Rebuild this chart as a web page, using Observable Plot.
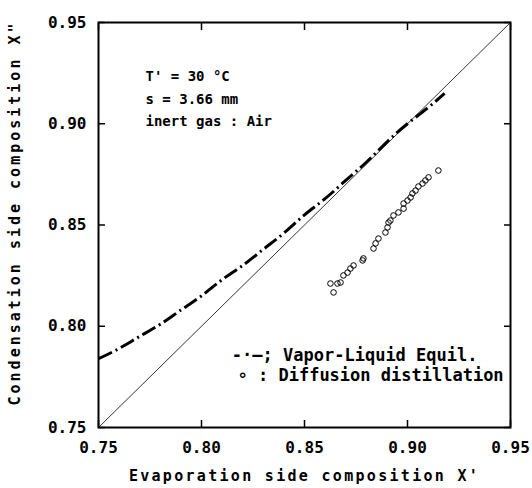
<!DOCTYPE html>
<html>
<head>
<meta charset="utf-8">
<script src="https://cdn.jsdelivr.net/npm/d3@7"></script>
<script src="https://cdn.jsdelivr.net/npm/@observablehq/plot@0.6"></script>
<style>
  html, body { margin: 0; padding: 0; background: #fff; }
</style>
</head>
<body>
<div id="chart"></div>
<script>
// Tick values / labels
const xTicks = [0.75, 0.80, 0.85, 0.90, 0.95];
const yTicks = [0.75, 0.80, 0.85, 0.90, 0.95];
const tickLabels = ["0.75", "0.80", "0.85", "0.90", "0.95"];

// Diagonal X'' = X'
const diagX = [0.75, 0.95];
const diagY = [0.75, 0.95];

// Vapor-liquid equilibrium curve (dash-dot)
const vleX = [0.750, 0.760, 0.770, 0.780, 0.790, 0.800, 0.810, 0.820, 0.830, 0.840, 0.850, 0.860, 0.870, 0.880, 0.890, 0.900, 0.910, 0.918];
const vleY = [0.784, 0.789, 0.795, 0.801, 0.808, 0.815, 0.823, 0.830, 0.838, 0.846, 0.855, 0.863, 0.872, 0.881, 0.891, 0.900, 0.908, 0.915];

// Diffusion distillation experiments
const expX = [0.9150, 0.9102, 0.9087, 0.9073, 0.9053, 0.9039, 0.9024, 0.9015, 0.9000, 0.8981, 0.8981, 0.8956, 0.8932, 0.8917, 0.8908, 0.8903, 0.8893, 0.8859, 0.8845, 0.8835, 0.8786, 0.8782, 0.8738, 0.8723, 0.8709, 0.8689, 0.8675, 0.8660, 0.8626, 0.8641];
const expY = [0.8769, 0.8735, 0.8720, 0.8705, 0.8690, 0.8670, 0.8656, 0.8636, 0.8621, 0.8606, 0.8581, 0.8562, 0.8547, 0.8522, 0.8512, 0.8488, 0.8463, 0.8433, 0.8409, 0.8384, 0.8335, 0.8325, 0.8300, 0.8285, 0.8265, 0.8251, 0.8216, 0.8211, 0.8211, 0.8167];

const annotation = "T' = 30 °C\ns = 3.66 mm\ninert gas : Air";
const legend1 = "-·—; Vapor-Liquid Equil.";
const legend2 = "∘ : Diffusion distillation";
const xTitle = "Evaporation side composition X'";
const yTitle = "Condensation side composition X\"";

const vle = vleX.map((x, i) => ({x, y: vleY[i]}));
const exp = expX.map((x, i) => ({x, y: expY[i]}));
const diag = diagX.map((x, i) => ({x, y: diagY[i]}));
const fmt = d => tickLabels[xTicks.indexOf(d)];

const font = "DejaVu Sans Mono";

const svg = Plot.plot({
  width: 532,
  height: 488,
  marginLeft: 98,
  marginRight: 22,
  marginTop: 22,
  marginBottom: 61,
  style: {fontFamily: font, fontWeight: "bold", color: "#000", background: "#fff"},
  x: {domain: [0.75, 0.95]},
  y: {domain: [0.75, 0.95]},
  marks: [
    Plot.frame({stroke: "#000", strokeWidth: 2}),
    Plot.axisX(xTicks, {anchor: "bottom", tickSize: -7, tickPadding: 21, tickFormat: fmt, fontSize: 16, label: null, strokeWidth: 1.5}),
    Plot.axisX(xTicks, {anchor: "top", tickSize: -7, tickFormat: () => "", label: null, strokeWidth: 1.5}),
    Plot.axisY(yTicks, {anchor: "left", tickSize: -7, tickPadding: 19, tickFormat: fmt, fontSize: 16, label: null, strokeWidth: 1.5}),
    Plot.axisY(yTicks, {anchor: "right", tickSize: -7, tickFormat: () => "", label: null, strokeWidth: 1.5}),
    Plot.line(diag, {x: "x", y: "y", stroke: "#000", strokeWidth: 0.8}),
    Plot.line(vle, {x: "x", y: "y", stroke: "#000", strokeWidth: 3, strokeDasharray: "15,4,2,4", strokeLinecap: "butt", curve: "natural"}),
    Plot.dot(exp, {x: "x", y: "y", r: 2.8, stroke: "#000", strokeWidth: 1, fill: "none"}),
    Plot.text([annotation], {frameAnchor: "top-left", dx: 47, dy: 43, textAnchor: "start", lineAnchor: "top", lineHeight: 1.6, fontSize: 14, fill: "#000"}),
    Plot.text([legend1], {frameAnchor: "bottom-right", dx: -33, dy: -67, textAnchor: "end", fontSize: 17, fill: "#000"}),
    Plot.text([legend2], {frameAnchor: "bottom-left", dx: 139, dy: -47, textAnchor: "start", fontSize: 17, fill: "#000"}),
    Plot.text([xTitle], {frameAnchor: "bottom", dy: 53, fontSize: 15, fill: "#000"}),
    Plot.text([yTitle], {frameAnchor: "left", dx: -83, dy: -12, rotate: -90, textAnchor: "middle", fontSize: 15, fill: "#000"})
  ]
});

d3.select(svg).selectAll("text").each(function() {
  const t = this.textContent;
  if (t === xTitle) d3.select(this).attr("letter-spacing", "2.3");
  if (t === yTitle) d3.select(this).attr("letter-spacing", "3");
});

document.getElementById("chart").appendChild(svg);
</script>
</body>
</html>
